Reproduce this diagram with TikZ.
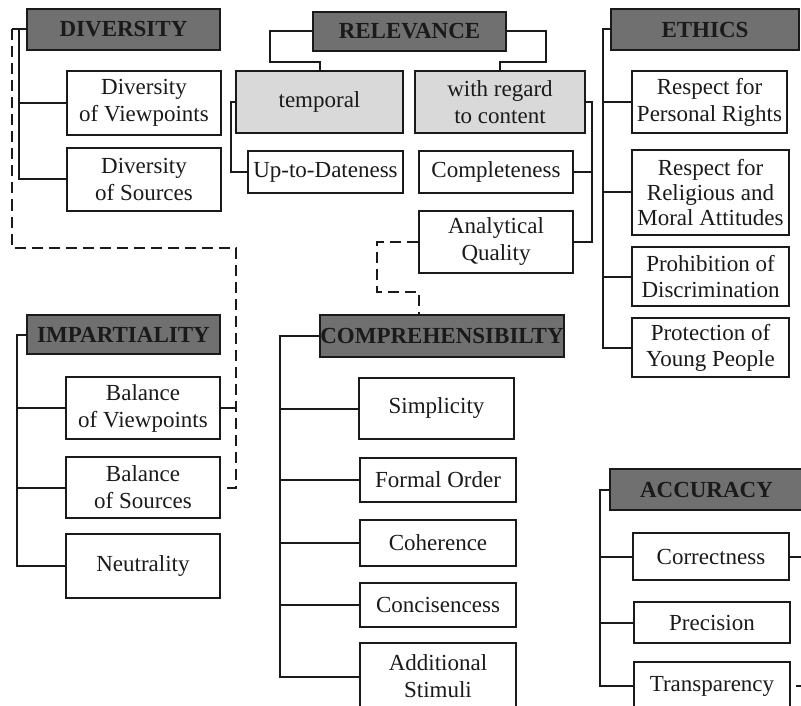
\documentclass[tikz,border=0pt]{standalone}
\usepackage{fontspec}
\setmainfont{Liberation Serif}
\usetikzlibrary{calc}
\definecolor{headc}{HTML}{707070}
\definecolor{subc}{HTML}{D9D9D9}
\definecolor{linec}{HTML}{1A1A1A}
\definecolor{textc}{HTML}{1A1A1A}
\begin{document}
\begin{tikzpicture}[x=1pt,y=-1pt,
  leaf/.style={draw=linec, line width=2pt, fill=white, align=center, inner sep=0pt,
    text=textc, font=\fontsize{23}{27}\selectfont},
  headbox/.style={leaf, fill=headc, font=\fontsize{23}{27}\selectfont\bfseries},
  subbox/.style={leaf, fill=subc},
  sz/.style 2 args={minimum width=#1pt, minimum height=#2pt},
  conn/.style={draw=linec, line width=2pt},
  dsh/.style={conn, dash pattern=on 11pt off 6pt}]
\useasboundingbox (0,0) rectangle (801,706);
\fill[white] (0,0) rectangle (801,706);
\begin{scope}
\clip (0,0) rectangle (801,706);
% DIVERSITY
\node[headbox, sz={193}{41}] (divh) at (123.5,29.5) {DIVERSITY};
\node[leaf, sz={154}{64}] (dv) at (144,103) {Diversity\\of Viewpoints};
\node[leaf, sz={154}{63}] (ds) at (144,179.5) {Diversity\\of Sources};
% RELEVANCE
\node[headbox, sz={193}{39}] (relh) at (409.5,31.5) {RELEVANCE};
\node[subbox, sz={167}{62}] (temp) at (319.5,102) {temporal};
\node[subbox, sz={170}{62}] (cont) at (500,102) {with regard\\to content};
\node[leaf, sz={155}{42}] (utd) at (325.5,172) {Up-to-Dateness};
\node[leaf, sz={154}{42}] (compl) at (496,172) {Completeness};
\node[leaf, sz={154}{62}] (aq) at (496,242) {Analytical\\Quality};
% ETHICS
\node[headbox, sz={188}{41}] (ethh) at (705,29.5) {ETHICS};
\node[leaf, sz={155}{62}] (rpr) at (709.5,102) {Respect for\\Personal Rights};
\node[leaf, sz={157}{85}, font=\fontsize{23}{25}\selectfont] (rrm) at (710.5,192.5) {Respect for\\Religious and\\Moral Attitudes};
\node[leaf, sz={157}{59}, font=\fontsize{23}{26}\selectfont] (pd) at (710.5,276.5) {Prohibition of\\Discrimination};
\node[leaf, sz={157}{59}, font=\fontsize{23}{26}\selectfont] (pyp) at (710.5,347.5) {Protection of\\Young People};
% IMPARTIALITY
\node[headbox, sz={193}{39}] (imph) at (123.5,334.5) {IMPARTIALITY};
\node[leaf, sz={154}{62}] (bv) at (143,408) {Balance\\of Viewpoints};
\node[leaf, sz={154}{61}] (bs) at (143,487.5) {Balance\\of Sources};
\node[leaf, sz={154}{64}] (neu) at (143,566) {Neutrality};
% COMPREHENSIBILITY
\node[headbox, sz={242}{42}] (comph) at (442,336) {COMPREHENSIBILTY};
\node[leaf, sz={155}{61}] (simp) at (436.5,408.5) {Simplicity};
\node[leaf, sz={156}{44}] (fo) at (438,480) {Formal Order};
\node[leaf, sz={156}{46}] (coh) at (438,543) {Coherence};
\node[leaf, sz={156}{44}] (conc) at (438,605) {Concisencess};
\node[leaf, sz={156}{67}] (as) at (438,676.5) {Additional\\Stimuli};
% ACCURACY
\node[headbox, sz={193}{41}] (acch) at (706.5,489.5) {ACCURACY};
\node[leaf, sz={156}{47}] (corr) at (711,556.5) {Correctness};
\node[leaf, sz={156}{41}] (prec) at (712,622.5) {Precision};
\node[leaf, sz={156}{48}] (tra) at (712,686) {Transparency};

% coordinates
\coordinate (divbus) at (19,29.5);
\coordinate (divtip) at (12,29.5);
\coordinate (dc) at (236,248);
\coordinate (impbus) at (17,334.5);
\coordinate (rl) at (270,62);
\coordinate (rr) at (546,62);
\coordinate (tb) at (231,102);
\coordinate (cb) at (592,102);
\coordinate (q1) at (377,292);
\coordinate (q2) at (419,314);
\coordinate (compbus) at (280,336);
\coordinate (ethbus) at (603,29.5);
\coordinate (accbus) at (600,489.5);
\coordinate (edge) at (803,0);

% DIVERSITY connectors
\draw[conn] (divh.west) -- (divtip);
\draw[conn] (divbus) |- (ds.west);
\draw[conn] (dv.west) -- (dv.west -| divbus);
\draw[dsh] (divtip) |- (dc) |- (bs.east);
% IMPARTIALITY
\draw[conn] (imph.west) -- (impbus) |- (neu.west);
\draw[conn] (bv.west) -- (bv.west -| impbus);
\draw[conn] (bs.west) -- (bs.west -| impbus);
\draw[conn] (bv.east) -- (bv.east -| dc);
% RELEVANCE
\draw[conn] (relh.west) -| (rl) -| (temp.north);
\draw[conn] (relh.east) -| (rr) -| (cont.north);
\draw[conn] (temp.west) -- (tb) |- (utd.west);
\draw[conn] (cont.east) -- (cb) |- (aq.east);
\draw[conn] (compl.east) -- (compl.east -| cb);
\draw[dsh] (aq.west) -| (q1) -| (q2);
% ETHICS
\draw[conn] (ethh.west) -- (ethbus) |- (pyp.west);
\draw[conn] (rpr.west) -- (rpr.west -| ethbus);
\draw[conn] (rrm.west) -- (rrm.west -| ethbus);
\draw[conn] (pd.west) -- (pd.west -| ethbus);
% COMPREHENSIBILITY
\draw[conn] (comph.west) -- (compbus) |- (as.west);
\draw[conn] (simp.west) -- (simp.west -| compbus);
\draw[conn] (fo.west) -- (fo.west -| compbus);
\draw[conn] (coh.west) -- (coh.west -| compbus);
\draw[conn] (conc.west) -- (conc.west -| compbus);
% ACCURACY
\draw[conn] (acch.west) -- (accbus) |- (tra.west);
\draw[conn] (corr.west) -- (corr.west -| accbus);
\draw[conn] (prec.west) -- (prec.west -| accbus);
\draw[conn] (corr.east) -- (corr.east -| edge);
\draw[conn, dash pattern=on 0pt off 5pt on 12pt] (tra.east) -- (tra.east -| edge);
\end{scope}
\end{tikzpicture}
\end{document}
